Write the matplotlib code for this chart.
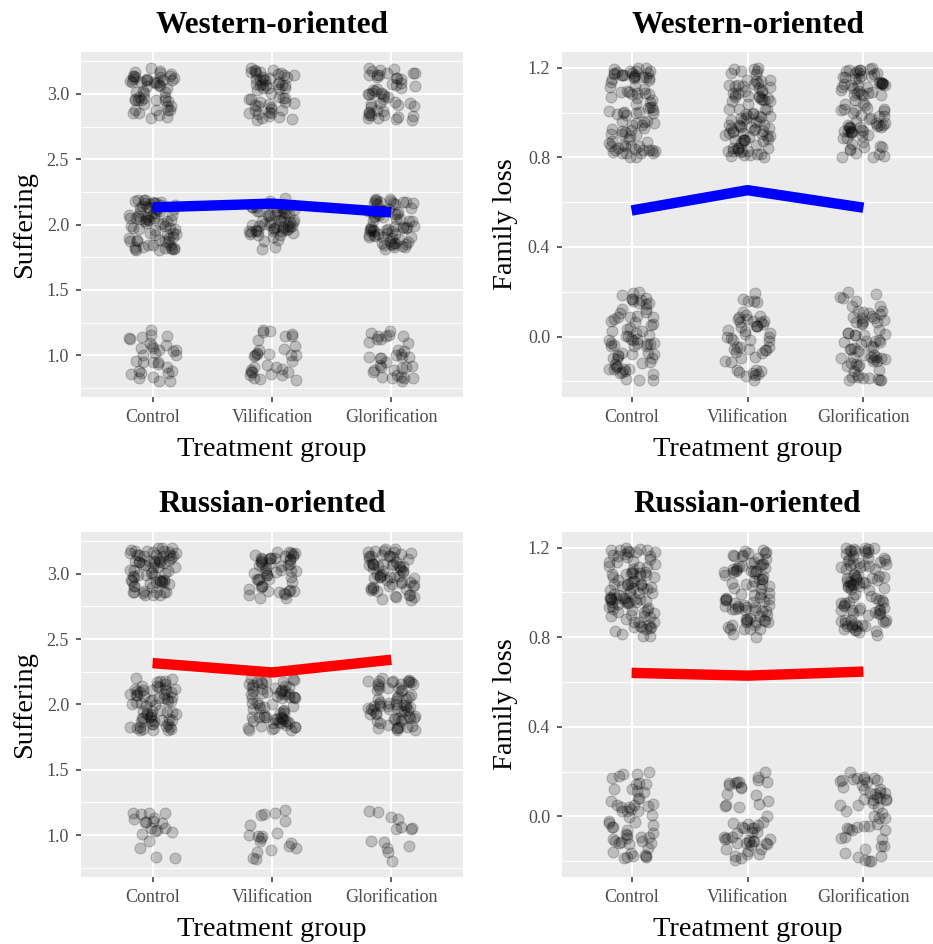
import numpy as np
import matplotlib
matplotlib.use("Agg")
import matplotlib.pyplot as plt
from matplotlib.ticker import FixedLocator

plt.rcParams['font.family'] = ['Liberation Serif', 'DejaVu Serif']

groups = ["Control", "Vilification", "Glorification"]
suffering_levels = [1, 2, 3]
family_levels = [0, 1]

# respondents per answer level, one row per treatment group
west_suffering = [[32, 75, 53], [32, 62, 56], [35, 75, 50]]
west_family = [[70, 90], [52, 98], [68, 92]]
russ_suffering = [[20, 68, 70], [19, 70, 54], [14, 68, 64]]
russ_family = [[56, 100], [52, 88], [53, 97]]

BG = "#EBEBEB"
TXT = "#4D4D4D"
TICK = "#333333"

# jitter is only for display, like geom_jitter(width=.2, height=.2)
rng = np.random.default_rng(7)


def draw_panel(ax, counts, levels, title, ylabel, color, yticks, yminor, ylim):
    ax.set_facecolor(BG)
    means = []
    for gi, row in enumerate(counts):
        x_pts, y_pts = [], []
        for lev, n in zip(levels, row):
            x_pts.append(gi + 1 + rng.uniform(-0.2, 0.2, n))
            y_pts.append(lev + rng.uniform(-0.2, 0.2, n))
        ax.scatter(np.concatenate(x_pts), np.concatenate(y_pts), s=62,
                   facecolor="black", edgecolor="black", linewidths=0.8,
                   alpha=0.2, zorder=3)
        means.append(np.dot(levels, row) / sum(row))
    ax.plot([1, 2, 3], means, color=color, lw=7.5, solid_capstyle="butt", zorder=4)

    ax.set_xlim(0.4, 3.6)
    ax.set_ylim(*ylim)
    ax.set_xticks([1, 2, 3])
    ax.set_xticklabels(groups)
    ax.yaxis.set_major_locator(FixedLocator(yticks))
    ax.yaxis.set_minor_locator(FixedLocator(yminor))
    ax.set_yticklabels([f"{t:.1f}" for t in yticks])
    ax.grid(which="major", color="white", lw=1.5, zorder=1)
    ax.grid(which="minor", axis="y", color="white", lw=0.8, zorder=1)
    ax.set_axisbelow(True)
    for s in ax.spines.values():
        s.set_visible(False)
    ax.tick_params(which="major", length=3.6, width=1.1, color=TICK,
                   labelcolor=TXT, labelsize=13, pad=5)
    ax.tick_params(which="minor", length=0)
    ax.set_title(title, fontsize=22.5, fontweight="bold", pad=14)
    ax.set_xlabel("Treatment group", fontsize=20.5, labelpad=8)
    ax.set_ylabel(ylabel, fontsize=20.5, labelpad=7)


fig = plt.figure(figsize=(9.33, 9.44), dpi=100)
ax1 = fig.add_axes([0.0868, 0.5794, 0.4094, 0.3655])
ax2 = fig.add_axes([0.6024, 0.5794, 0.3976, 0.3655])
ax3 = fig.add_axes([0.0868, 0.0710, 0.4094, 0.3655])
ax4 = fig.add_axes([0.6024, 0.0710, 0.3976, 0.3655])

suff_ticks = [1.0, 1.5, 2.0, 2.5, 3.0]
suff_minor = [0.75, 1.25, 1.75, 2.25, 2.75, 3.25]
fam_ticks = [0.0, 0.4, 0.8, 1.2]
fam_minor = [-0.2, 0.2, 0.6, 1.0]

draw_panel(ax1, west_suffering, suffering_levels, "Western-oriented", "Suffering",
           "#0000FF", suff_ticks, suff_minor, (0.68, 3.32))
draw_panel(ax2, west_family, family_levels, "Western-oriented", "Family loss",
           "#0000FF", fam_ticks, fam_minor, (-0.27, 1.27))
draw_panel(ax3, russ_suffering, suffering_levels, "Russian-oriented", "Suffering",
           "#FF0000", suff_ticks, suff_minor, (0.68, 3.32))
draw_panel(ax4, russ_family, family_levels, "Russian-oriented", "Family loss",
           "#FF0000", fam_ticks, fam_minor, (-0.27, 1.27))

fig.savefig("out.png", dpi=100, facecolor="white")
